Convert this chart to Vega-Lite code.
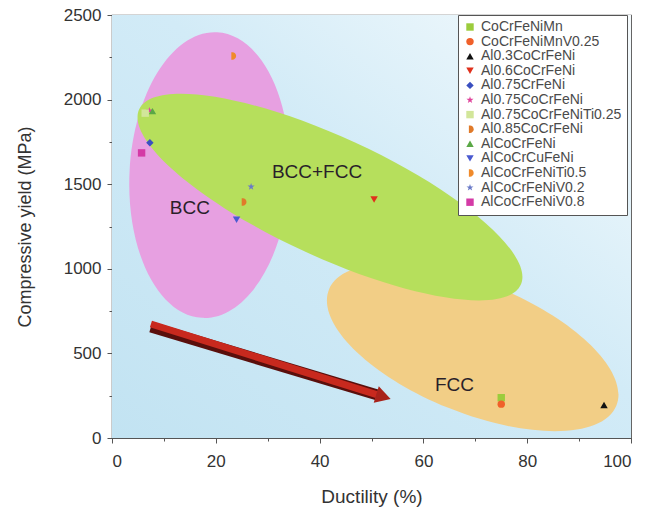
{
  "$schema": "https://vega.github.io/schema/vega-lite/v6.json",
  "width": 519,
  "height": 423,
  "autosize": {"type": "none"},
  "padding": {"left": 112, "top": 15, "right": 20, "bottom": 73},
  "background": "white",
  "config": {
    "font": "Liberation Sans",
    "view": {"stroke": "#555", "strokeWidth": 1.2},
    "axis": {"domainColor": "#555", "tickColor": "#555", "labelColor": "#333", "titleColor": "#333", "titleFontWeight": "normal", "grid": false}
  },
  "datasets": {
    "alloys": [
      {"alloy": "CoCrFeNiMn", "ductility": 75, "yield": 238},
      {"alloy": "CoCrFeNiMnV0.25", "ductility": 75, "yield": 200},
      {"alloy": "Al0.3CoCrFeNi", "ductility": 94.8, "yield": 195},
      {"alloy": "Al0.6CoCrFeNi", "ductility": 50.5, "yield": 1410},
      {"alloy": "Al0.75CrFeNi", "ductility": 7.3, "yield": 1745},
      {"alloy": "Al0.75CoCrFeNi", "ductility": 7.2, "yield": 1935},
      {"alloy": "Al0.75CoCrFeNiTi0.25", "ductility": 6.4, "yield": 1920},
      {"alloy": "Al0.85CoCrFeNi", "ductility": 25.2, "yield": 1395},
      {"alloy": "AlCoCrFeNi", "ductility": 7.8, "yield": 1932},
      {"alloy": "AlCoCrCuFeNi", "ductility": 24, "yield": 1290},
      {"alloy": "AlCoCrFeNiTi0.5", "ductility": 23.2, "yield": 2258},
      {"alloy": "AlCoCrFeNiV0.2", "ductility": 26.8, "yield": 1485},
      {"alloy": "AlCoCrFeNiV0.8", "ductility": 5.7, "yield": 1685}
    ],
    "regions": [
      {"region": "BCC", "x": 18.8, "y": 1554},
      {"region": "BCC+FCC", "x": 42.0, "y": 1424},
      {"region": "FCC", "x": 69.5, "y": 535}
    ],
    "labels": [
      {"text": "BCC", "x": 15.0, "y": 1360},
      {"text": "BCC+FCC", "x": 39.5, "y": 1570},
      {"text": "FCC", "x": 66.0, "y": 313}
    ],
    "arrow": [{"x": 7.5, "y": 668, "x2": 51.0, "y2": 256}],
    "arrowhead": [{"x": 52.3, "y": 244}],
    "bg": [{"id": 1}]
  },
  "resolve": {"axis": {"x": "independent", "y": "independent"}},
  "layer": [
    {
      "data": {"name": "bg"},
      "mark": {"type": "rect", "color": {"gradient": "linear", "x1": 0, "y1": 1, "x2": 1, "y2": 0, "stops": [{"offset": 0, "color": "#c2e3f2"}, {"offset": 0.55, "color": "#d2ebf7"}, {"offset": 1, "color": "#f6fbfd"}]}},
      "encoding": {}
    },
    {
      "data": {"name": "regions"},
      "transform": [{"filter": "datum.region === 'BCC'"}],
      "mark": {"type": "point", "filled": true, "opacity": 1, "shape": "M -0.56 0 A 0.56 1 0 1 0 0.56 0 A 0.56 1 0 1 0 -0.56 0 Z", "size": 81796, "angle": 3, "color": "#e7a0e1"},
      "encoding": {
        "x": {"field": "x", "type": "quantitative", "scale": {"domain": [0, 100], "nice": false}, "axis": {"orient": "bottom", "values": [10, 30, 50, 70, 90], "labels": false, "domain": false, "tickSize": 3, "title": null}},
        "y": {"field": "y", "type": "quantitative", "scale": {"domain": [0, 2500], "nice": false}, "axis": {"orient": "left", "values": [250, 750, 1250, 1750, 2250], "labels": false, "domain": false, "tickSize": 3, "title": null}}
      }
    },
    {
      "data": {"name": "regions"},
      "transform": [{"filter": "datum.region === 'FCC'"}],
      "mark": {"type": "point", "filled": true, "opacity": 1, "shape": "M -1 0 A 1 0.42 0 1 0 1 0 A 1 0.42 0 1 0 -1 0 Z", "size": 96100, "angle": 22, "color": "#f2ce86"},
      "encoding": {
        "x": {"field": "x", "type": "quantitative", "scale": {"domain": [0, 100], "nice": false}, "axis": null},
        "y": {"field": "y", "type": "quantitative", "scale": {"domain": [0, 2500], "nice": false}, "axis": null}
      }
    },
    {
      "data": {"name": "regions"},
      "transform": [{"filter": "datum.region === 'BCC+FCC'"}],
      "mark": {"type": "point", "filled": true, "opacity": 1, "shape": "M -1 0 A 1 0.2857 0 1 0 1 0 A 1 0.2857 0 1 0 -1 0 Z", "size": 176400, "angle": 24.7, "color": "#b6df5c"},
      "encoding": {
        "x": {"field": "x", "type": "quantitative", "scale": {"domain": [0, 100], "nice": false}, "axis": null},
        "y": {"field": "y", "type": "quantitative", "scale": {"domain": [0, 2500], "nice": false}, "axis": null}
      }
    },
    {
      "data": {"name": "labels"},
      "mark": {"type": "text", "fontSize": 19, "color": "#2a1f2a", "font": "Liberation Sans"},
      "encoding": {
        "x": {"field": "x", "type": "quantitative", "scale": {"domain": [0, 100], "nice": false}, "axis": null},
        "y": {"field": "y", "type": "quantitative", "scale": {"domain": [0, 2500], "nice": false}, "axis": null},
        "text": {"field": "text"}
      }
    },
    {
      "data": {"name": "arrow"},
      "mark": {"type": "rule", "strokeWidth": 11, "color": "#5a0f0c", "yOffset": 2},
      "encoding": {
        "x": {"field": "x", "type": "quantitative", "scale": {"domain": [0, 100], "nice": false}, "axis": null},
        "y": {"field": "y", "type": "quantitative", "scale": {"domain": [0, 2500], "nice": false}, "axis": null},
        "x2": {"field": "x2"},
        "y2": {"field": "y2"}
      }
    },
    {
      "data": {"name": "arrow"},
      "mark": {"type": "rule", "strokeWidth": 7, "color": "#c8291e", "yOffset": -1},
      "encoding": {
        "x": {"field": "x", "type": "quantitative", "scale": {"domain": [0, 100], "nice": false}, "axis": null},
        "y": {"field": "y", "type": "quantitative", "scale": {"domain": [0, 2500], "nice": false}, "axis": null},
        "x2": {"field": "x2"},
        "y2": {"field": "y2"}
      }
    },
    {
      "data": {"name": "arrowhead"},
      "mark": {"type": "point", "filled": true, "opacity": 1, "shape": "triangle-right", "size": 300, "angle": 17, "color": "#a8221a"},
      "encoding": {
        "x": {"field": "x", "type": "quantitative", "scale": {"domain": [0, 100], "nice": false}, "axis": null},
        "y": {"field": "y", "type": "quantitative", "scale": {"domain": [0, 2500], "nice": false}, "axis": null}
      }
    },
    {
      "data": {"name": "alloys"},
      "mark": {"type": "point", "filled": true, "opacity": 1, "size": 55, "strokeWidth": 0},
      "encoding": {
        "x": {"field": "ductility", "type": "quantitative", "scale": {"domain": [0, 100], "nice": false}, "axis": {"orient": "bottom", "values": [0, 20, 40, 60, 80, 100], "format": "d", "tickSize": 5, "labelPadding": 10, "labelFontSize": 17, "title": "Ductility (%)", "titleFontSize": 19, "titlePadding": 18}},
        "y": {"field": "yield", "type": "quantitative", "scale": {"domain": [0, 2500], "nice": false}, "axis": {"orient": "left", "values": [0, 500, 1000, 1500, 2000, 2500], "format": "d", "tickSize": 5, "labelPadding": 6, "labelFontSize": 17, "title": "Compressive yield (MPa)", "titleFontSize": 18, "titlePadding": 29}},
        "color": {
          "field": "alloy", "type": "nominal",
          "scale": {
            "domain": ["CoCrFeNiMn", "CoCrFeNiMnV0.25", "Al0.3CoCrFeNi", "Al0.6CoCrFeNi", "Al0.75CrFeNi", "Al0.75CoCrFeNi", "Al0.75CoCrFeNiTi0.25", "Al0.85CoCrFeNi", "AlCoCrFeNi", "AlCoCrCuFeNi", "AlCoCrFeNiTi0.5", "AlCoCrFeNiV0.2", "AlCoCrFeNiV0.8"],
            "range": ["#9ccc3c", "#f0602a", "#111111", "#e0301c", "#3a4fc0", "#e0449c", "#d2e69a", "#e07a2a", "#5aa846", "#4a5ad0", "#f08a2a", "#6a7ac8", "#d43aa6"]
          },
          "legend": {"orient": "none", "legendX": 346, "legendY": 0, "title": null, "strokeColor": "#555", "fillColor": "white", "padding": 5, "labelFontSize": 14, "labelColor": "#4a4a4a", "symbolSize": 55, "rowPadding": 0.6, "labelOffset": 4, "symbolStrokeWidth": 0}
        },
        "shape": {
          "field": "alloy", "type": "nominal",
          "scale": {
            "domain": ["CoCrFeNiMn", "CoCrFeNiMnV0.25", "Al0.3CoCrFeNi", "Al0.6CoCrFeNi", "Al0.75CrFeNi", "Al0.75CoCrFeNi", "Al0.75CoCrFeNiTi0.25", "Al0.85CoCrFeNi", "AlCoCrFeNi", "AlCoCrCuFeNi", "AlCoCrFeNiTi0.5", "AlCoCrFeNiV0.2", "AlCoCrFeNiV0.8"],
            "range": ["square", "circle", "triangle-up", "triangle-down", "diamond", "M0,-1L0.235,-0.324L0.951,-0.309L0.38,0.124L0.588,0.809L0,0.4L-0.588,0.809L-0.38,0.124L-0.951,-0.309L-0.235,-0.324Z", "square", "M-0.3,-1L0,-1A1,1 0 0,1 0,1L-0.3,1Z", "triangle-up", "triangle-down", "M-0.3,-1L0,-1A1,1 0 0,1 0,1L-0.3,1Z", "M0,-1L0.235,-0.324L0.951,-0.309L0.38,0.124L0.588,0.809L0,0.4L-0.588,0.809L-0.38,0.124L-0.951,-0.309L-0.235,-0.324Z", "square"]
          },
          "legend": {"orient": "none", "legendX": 346, "legendY": 0, "title": null, "strokeColor": "#555", "fillColor": "white", "padding": 5, "labelFontSize": 14, "labelColor": "#4a4a4a", "symbolSize": 55, "rowPadding": 0.6, "labelOffset": 4, "symbolStrokeWidth": 0}
        }
      }
    }
  ]
}
